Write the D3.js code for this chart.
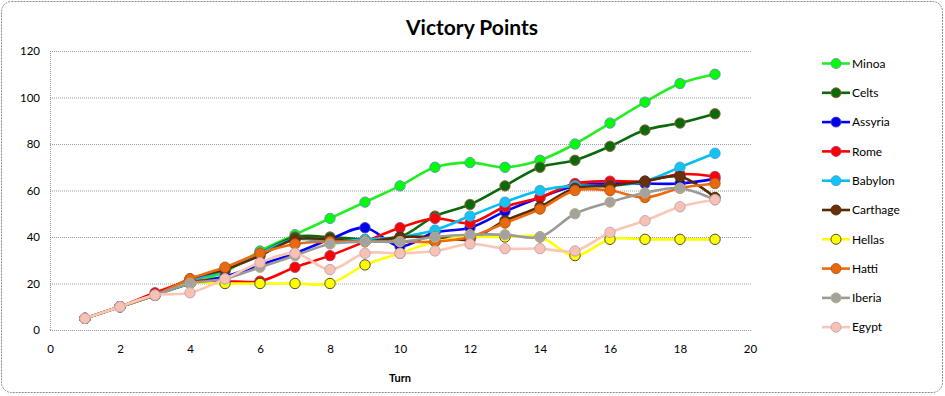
<!DOCTYPE html>
<html>
<head>
<meta charset="utf-8">
<script src="https://cdn.jsdelivr.net/npm/d3@7"></script>
<style>
  body { margin: 0; background: #fff; }
  #chart { width: 945px; height: 396px; }
  text { font-family: Lato, "Noto Sans", sans-serif; fill: #000; }
</style>
</head>
<body>
<div id="chart"></div>
<script>
// turns 1..19
const turns = [1,2,3,4,5,6,7,8,9,10,11,12,13,14,15,16,17,18,19];

const minoa    = [5,10,15,20,25,34,41,48,55,62,70,72,70,73,80,89,98,106,110];
const celts    = [5,10,15,21,26,33,40,40,39,40,49,54,62,70,73,79,86,89,93];
const assyria  = [5,10,15,20,23,28,33,39,44,36,42,44,51,57,62,63,63,63,65];
const rome     = [5,10,16,21,21,21,27,32,38,44,48,46,53,57,63,64,64,67,66];
const babylon  = [5,10,15,21,26,33,39,38,39,40,43,49,55,60,62,62,64,70,76];
const carthage = [5,10,15,22,26,32,39,39,38,40,40,39,47,53,61,62,64,66,57];
const hellas   = [5,10,15,20,20,20,20,20,28,33,38,40,40,40,32,39,39,39,39];
const hatti    = [5,10,15,22,27,33,37,38,38,38,38,40,46,52,60,60,57,61,63];
const iberia   = [5,10,15,20,22,27,32,37,38,38,40,41,41,40,50,55,59,61,56];
const egypt    = [5,10,15,16,22,29,33,26,33,33,34,37,35,35,34,42,47,53,56];

const names  = ['Minoa','Celts','Assyria','Rome','Babylon','Carthage','Hellas','Hatti','Iberia','Egypt'];
const values = [minoa, celts, assyria, rome, babylon, carthage, hellas, hatti, iberia, egypt];

const xTicks = [0,2,4,6,8,10,12,14,16,18,20];
const yTicks = [0,20,40,60,80,100,120];

const lineColors   = ['#22ee22','#0a6a0a','#0000ff','#ff0000','#00c0f0','#5a2a00','#ffff00','#ee6a10','#9a9a9a','#fcc6b4'];
const markerFill   = ['#00ff00','#0b6b0b','#0000ee','#ff0000','#10c4f4','#6a3008','#ffff00','#e8690e','#a2a2a2','#f8c2b2'];
const markerStroke = ['#6a8acb','#9a5a3a','#4a4ab0','#a04070','#5a9ad0','#4a2a10','#404020','#b05a20','#c0b070','#c0a0c0'];

const W = 945, H = 396;
const plotBox = {l:50, r:750, t:51, b:330};

const svg = d3.select('#chart')
  .append('svg')
  .attr('width', W)
  .attr('height', H);

svg.append('rect')
  .attr('x', 1.5).attr('y', 1.5)
  .attr('width', W - 4).attr('height', H - 5)
  .attr('rx', 10)
  .style('fill', '#fff')
  .style('stroke', '#8c8c8c')
  .style('stroke-dasharray', '2,1');

svg.append('text')
  .attr('x', 472).attr('y', 35)
  .attr('text-anchor', 'middle')
  .style('font-size', '21px')
  .style('font-weight', 'bold')
  .text('Victory Points');

const x = d3.scaleLinear().domain([0, 20]).range([plotBox.l, plotBox.r]);
const y = d3.scaleLinear().domain([0, 120]).range([plotBox.b, plotBox.t]);

// gridlines
svg.append('g')
  .selectAll('line')
  .data(yTicks)
  .enter()
  .append('line')
  .attr('x1', plotBox.l).attr('x2', plotBox.r + 2)
  .attr('y1', d => y(d) + 0.5).attr('y2', d => y(d) + 0.5)
  .style('stroke', '#9a9a9a')
  .style('stroke-dasharray', '1,1');

svg.append('line')
  .attr('x1', plotBox.l + 0.5).attr('x2', plotBox.l + 0.5)
  .attr('y1', plotBox.t).attr('y2', plotBox.b)
  .style('stroke', '#9a9a9a')
  .style('stroke-dasharray', '1,1');

// axes
const xAxis = svg.append('g')
  .attr('transform', `translate(0, ${plotBox.b})`)
  .call(d3.axisBottom(x).tickValues(xTicks).tickSize(0).tickPadding(15));
const yAxis = svg.append('g')
  .attr('transform', `translate(${plotBox.l}, 0)`)
  .call(d3.axisLeft(y).tickValues(yTicks).tickSize(0).tickPadding(10));

[xAxis, yAxis].forEach(function(a){
  a.select('.domain').remove();
  a.selectAll('text').style('font-size', '11.5px').style('font-family', 'Lato, "Noto Sans", sans-serif');
});

svg.append('text')
  .attr('x', x(10)).attr('y', 382)
  .attr('text-anchor', 'middle')
  .style('font-size', '11px')
  .style('font-weight', 'bold')
  .text('Turn');

const line = d3.line()
  .x(function(d, i){ return x(turns[i]); })
  .y(function(d){ return y(d); })
  .curve(d3.curveCatmullRom.alpha(0.5));

const series = svg.append('g')
  .selectAll('.series')
  .data(values)
  .enter()
  .append('g')
  .attr('class', 'series');

series.append('path')
  .attr('d', function(d){ return line(d); })
  .style('fill', 'none')
  .style('stroke', function(d, i){ return lineColors[i]; })
  .style('stroke-width', 2.6);

series.each(function(vals, si){
  d3.select(this)
    .selectAll('circle')
    .data(vals)
    .enter()
    .append('circle')
    .attr('cx', function(d, i){ return x(turns[i]); })
    .attr('cy', function(d){ return y(d); })
    .attr('r', 5.2)
    .style('fill', markerFill[si])
    .style('stroke', markerStroke[si])
    .style('stroke-width', 0.9);
});

// legend
const legend = svg.append('g')
  .selectAll('.legend')
  .data(names)
  .enter()
  .append('g')
  .attr('class', 'legend')
  .attr('transform', function(d, i){ return `translate(822, ${63.5 + i * 29.3})`; });

legend.append('line')
  .attr('x1', 0).attr('x2', 28)
  .style('stroke', function(d, i){ return lineColors[i]; })
  .style('stroke-width', 2.6);

legend.append('circle')
  .attr('cx', 14).attr('r', 5)
  .style('fill', function(d, i){ return markerFill[i]; })
  .style('stroke', function(d, i){ return markerStroke[i]; })
  .style('stroke-width', 0.9);

legend.append('text')
  .attr('x', 30).attr('dy', '0.35em')
  .style('font-size', '12px')
  .text(function(d){ return d; });
</script>
</body>
</html>
